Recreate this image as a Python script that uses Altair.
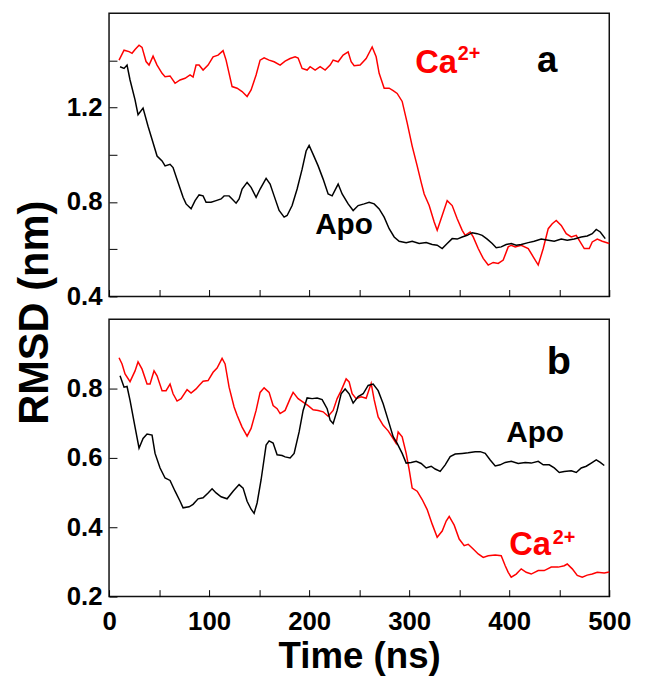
import altair as alt
import pandas as pd

# ---------------- data ----------------
# Panel a, Ca2+ (red)
a_ca_t = [10, 15, 20, 23, 26, 30, 33, 37, 40, 44, 48, 53, 56, 61, 66, 71, 76, 81, 84, 87,
          90, 94, 99, 104, 109, 114, 117, 120, 123, 128, 133, 138, 142, 147, 151, 155, 160,
          165, 171, 176, 181, 186, 189, 193, 198, 201, 206, 211, 216, 221, 224, 229, 234,
          239, 242, 245, 251, 257, 263, 267, 270, 275, 280, 284, 288, 293, 298, 303, 308,
          312, 315, 320, 325, 328, 333, 338, 343, 348, 353, 356, 361, 364, 369, 374, 379,
          384, 389, 394, 399, 402, 406, 412, 419, 424, 429, 434, 439, 443, 447, 452, 457,
          462, 467, 470, 475, 480, 483, 488, 493, 500]
a_ca_v = [1.401, 1.443, 1.437, 1.430, 1.446, 1.464, 1.455, 1.395, 1.380, 1.418, 1.380, 1.345,
          1.331, 1.334, 1.303, 1.317, 1.324, 1.338, 1.329, 1.380, 1.380, 1.359, 1.380, 1.415,
          1.422, 1.441, 1.401, 1.345, 1.289, 1.282, 1.268, 1.247, 1.275, 1.338, 1.401, 1.411,
          1.401, 1.394, 1.380, 1.397, 1.408, 1.415, 1.410, 1.366, 1.359, 1.373, 1.359, 1.373,
          1.359, 1.380, 1.401, 1.394, 1.422, 1.436, 1.394, 1.377, 1.380, 1.408, 1.457, 1.415,
          1.345, 1.282, 1.282, 1.272, 1.260, 1.226, 1.135, 1.037, 0.953, 0.883, 0.834, 0.785,
          0.715, 0.680, 0.743, 0.806, 0.785, 0.729, 0.680, 0.659, 0.673, 0.652, 0.603, 0.561,
          0.533, 0.544, 0.540, 0.554, 0.610, 0.617, 0.610, 0.617, 0.603, 0.568, 0.533, 0.603,
          0.687, 0.708, 0.722, 0.701, 0.666, 0.652, 0.659, 0.638, 0.603, 0.603, 0.631, 0.643,
          0.634, 0.624]

# Panel a, Apo (black)
a_apo_t = [11, 15, 18, 21, 26, 29, 34, 39, 44, 48, 53, 56, 61, 64, 69, 74, 77, 82, 86, 90,
           94, 97, 102, 107, 112, 115, 120, 123, 127, 130, 133, 138, 142, 147, 151, 157, 161,
           165, 170, 175, 178, 183, 188, 193, 197, 200, 204, 209, 214, 219, 223, 229, 233,
           239, 244, 249, 255, 260, 265, 270, 275, 280, 285, 290, 297, 303, 310, 317, 323,
           328, 333, 338, 343, 348, 353, 358, 363, 368, 373, 378, 383, 387, 392, 397, 402,
           407, 412, 419, 425, 432, 439, 445, 452, 458, 465, 472, 478, 483, 487, 491, 496]
a_apo_v = [1.373, 1.366, 1.380, 1.317, 1.233, 1.170, 1.198, 1.121, 1.051, 0.995, 0.974, 0.953,
           0.960, 0.946, 0.883, 0.820, 0.792, 0.771, 0.806, 0.830, 0.826, 0.799, 0.799, 0.806,
           0.813, 0.826, 0.826, 0.813, 0.795, 0.813, 0.855, 0.883, 0.862, 0.820, 0.855, 0.900,
           0.876, 0.826, 0.764, 0.736, 0.743, 0.785, 0.855, 0.939, 1.016, 1.040, 1.002, 0.953,
           0.897, 0.834, 0.826, 0.876, 0.834, 0.792, 0.764, 0.785, 0.792, 0.799, 0.792, 0.771,
           0.736, 0.687, 0.652, 0.634, 0.628, 0.634, 0.624, 0.628, 0.620, 0.617, 0.603, 0.624,
           0.645, 0.643, 0.652, 0.659, 0.670, 0.666, 0.659, 0.643, 0.624, 0.606, 0.610, 0.620,
           0.624, 0.617, 0.620, 0.628, 0.634, 0.643, 0.638, 0.634, 0.643, 0.638, 0.643, 0.652,
           0.656, 0.666, 0.684, 0.673, 0.645]

# Panel b, Ca2+ (red)
b_ca_t = [10, 13, 16, 21, 26, 29, 33, 38, 41, 45, 48, 53, 57, 61, 64, 68, 72, 78, 82, 87,
          90, 94, 99, 104, 108, 113, 116, 120, 125, 128, 133, 138, 142, 147, 151, 155, 160,
          164, 168, 171, 176, 181, 184, 189, 194, 199, 204, 209, 214, 219, 224, 228, 232,
          237, 240, 243, 247, 252, 257, 262, 265, 269, 274, 279, 284, 287, 289, 293, 297,
          300, 303, 308, 313, 318, 323, 328, 333, 337, 340, 345, 350, 355, 359, 364, 369,
          374, 379, 386, 392, 396, 399, 402, 407, 412, 417, 422, 429, 435, 442, 449, 455,
          458, 463, 468, 473, 478, 483, 488, 495, 500]
b_ca_v = [0.889, 0.871, 0.842, 0.820, 0.851, 0.877, 0.856, 0.813, 0.813, 0.851, 0.837, 0.794,
          0.794, 0.813, 0.785, 0.764, 0.771, 0.797, 0.787, 0.799, 0.809, 0.821, 0.823, 0.847,
          0.859, 0.887, 0.871, 0.804, 0.747, 0.723, 0.689, 0.663, 0.685, 0.737, 0.789, 0.802,
          0.789, 0.751, 0.742, 0.728, 0.737, 0.771, 0.789, 0.771, 0.761, 0.751, 0.739, 0.737,
          0.733, 0.720, 0.737, 0.771, 0.794, 0.828, 0.819, 0.785, 0.771, 0.776, 0.772, 0.815,
          0.768, 0.718, 0.694, 0.678, 0.656, 0.642, 0.675, 0.661, 0.613, 0.566, 0.513, 0.504,
          0.480, 0.451, 0.409, 0.371, 0.389, 0.418, 0.431, 0.406, 0.366, 0.347, 0.351, 0.337,
          0.323, 0.313, 0.318, 0.320, 0.318, 0.289, 0.270, 0.256, 0.265, 0.280, 0.270, 0.265,
          0.275, 0.275, 0.285, 0.285, 0.289, 0.294, 0.280, 0.261, 0.256, 0.262, 0.265, 0.270,
          0.268, 0.271]

# Panel b, Apo (black)
b_apo_t = [11, 15, 18, 21, 26, 30, 34, 38, 43, 46, 51, 56, 61, 66, 71, 74, 80, 84, 89, 94,
           99, 103, 107, 112, 118, 124, 130, 134, 138, 142, 145, 148, 152, 157, 160, 164, 168,
           173, 176, 181, 185, 190, 194, 198, 203, 208, 213, 218, 221, 224, 228, 232, 236,
           240, 244, 249, 254, 259, 264, 269, 274, 279, 284, 288, 293, 297, 302, 307, 312,
           317, 322, 326, 331, 336, 341, 346, 353, 359, 366, 371, 376, 381, 386, 391, 396,
           402, 409, 416, 422, 429, 434, 440, 445, 450, 455, 462, 467, 472, 477, 482, 487,
           491, 495]
b_apo_v = [0.837, 0.804, 0.806, 0.766, 0.689, 0.628, 0.656, 0.669, 0.666, 0.613, 0.571, 0.542,
           0.535, 0.504, 0.475, 0.456, 0.459, 0.466, 0.482, 0.485, 0.499, 0.511, 0.499, 0.488,
           0.482, 0.504, 0.523, 0.513, 0.475, 0.452, 0.440, 0.470, 0.537, 0.637, 0.649, 0.643,
           0.609, 0.607, 0.603, 0.600, 0.613, 0.675, 0.737, 0.773, 0.771, 0.773, 0.768, 0.742,
           0.709, 0.699, 0.737, 0.785, 0.799, 0.785, 0.758, 0.777, 0.785, 0.809, 0.813, 0.794,
           0.756, 0.709, 0.661, 0.642, 0.613, 0.585, 0.587, 0.590, 0.584, 0.571, 0.576, 0.568,
           0.561, 0.580, 0.604, 0.611, 0.613, 0.615, 0.618, 0.618, 0.613, 0.594, 0.577, 0.580,
           0.587, 0.590, 0.584, 0.587, 0.585, 0.590, 0.580, 0.580, 0.571, 0.558, 0.561, 0.563,
           0.558, 0.571, 0.576, 0.585, 0.594, 0.587, 0.578]

x_ticks = [0, 50, 100, 150, 200, 250, 300, 350, 400, 450, 500]
a_y_ticks = [0.4, 0.5, 0.6, 0.7, 0.8, 0.9, 1.0, 1.1, 1.2, 1.3, 1.4, 1.5]
b_y_ticks = [0.2, 0.3, 0.4, 0.5, 0.6, 0.7, 0.8, 0.9]

FONT = "Liberation Sans"
RED = "#ff0000"
BLACK = "#000000"


def series(t, v):
    return pd.DataFrame({"t": t, "v": v})


def lines(ca_t, ca_v, apo_t, apo_v, x, y):
    red = alt.Chart(series(ca_t, ca_v)).mark_line(color=RED, strokeWidth=1.5).encode(x=x, y=y)
    blk = alt.Chart(series(apo_t, apo_v)).mark_line(color=BLACK, strokeWidth=1.5).encode(x=x, y=y)
    return red, blk


def label(text, t, v, size, color):
    return alt.Chart().mark_text(
        text=text, align="left", baseline="alphabetic", font=FONT,
        fontWeight="bold", fontSize=size, color=color
    ).encode(x=alt.datum(t), y=alt.datum(v))


xscale = alt.Scale(domain=[0, 500], nice=False, zero=False)

# ---------- panel a ----------
xa = alt.X("t:Q", scale=xscale, title=None,
           axis=alt.Axis(values=x_ticks, labels=False, domain=False, grid=False,
                         tickSize=alt.ExprRef(expr="-7"), tickColor=BLACK))
ya = alt.Y("v:Q", scale=alt.Scale(domain=[0.4, 1.6], nice=False, zero=False),
           axis=alt.Axis(values=a_y_ticks, domain=False, grid=False,
                         labelExpr="round(datum.value*10) % 4 == 0 ? format(datum.value, '.1f') : ''",
                         tickSize=alt.ExprRef(expr="-8"), tickColor=BLACK, labelPadding=15,
                         labelFont=FONT, labelFontWeight="bold", labelFontSize=26,
                         labelColor=BLACK, labelFlush=False, labelOverlap=False,
                         title="RMSD (nm)", titleFont=FONT, titleFontWeight="bold",
                         titleFontSize=42, titleColor=BLACK, titleAngle=270,
                         titleBaseline="alphabetic", titleAlign="center",
                         titleX=-62, titleY=302))
ra, ba = lines(a_ca_t, a_ca_v, a_apo_t, a_apo_v, xa, ya)
top = alt.layer(
    ra, ba,
    label("Ca", 306, 1.345, 33, RED),
    label("2+", 348.5, 1.40, 20, RED),
    label("a", 427.7, 1.35, 37, BLACK),
    label("Apo", 206, 0.665, 30, BLACK),
).properties(width=505, height=286)

# ---------- panel b ----------
xb = alt.X("t:Q", scale=xscale,
           axis=alt.Axis(values=x_ticks, domain=False, grid=False,
                         tickSize=alt.ExprRef(expr="-7"), tickColor=BLACK,
                         labelExpr="round(datum.value) % 100 == 0 ? datum.value : ''",
                         labelPadding=19, labelFont=FONT, labelFontWeight="bold",
                         labelFontSize=26, labelColor=BLACK, labelFlush=False,
                         labelOverlap=False,
                         title="Time (ns)", titleFont=FONT, titleFontWeight="bold",
                         titleFontSize=37, titleColor=BLACK, titleBaseline="alphabetic",
                         titleY=72))
yb = alt.Y("v:Q", scale=alt.Scale(domain=[0.2, 1.0], nice=False, zero=False), title=None,
           axis=alt.Axis(values=b_y_ticks, domain=False, grid=False,
                         labelExpr="round(datum.value*10) % 2 == 0 ? format(datum.value, '.1f') : ''",
                         tickSize=alt.ExprRef(expr="-8"), tickColor=BLACK, labelPadding=15,
                         labelFont=FONT, labelFontWeight="bold", labelFontSize=26,
                         labelColor=BLACK, labelFlush=False, labelOverlap=False))
rb, bb = lines(b_ca_t, b_ca_v, b_apo_t, b_apo_v, xb, yb)
bottom = alt.layer(
    rb, bb,
    label("b", 437.6, 0.843, 40, BLACK),
    label("Apo", 397, 0.646, 30, BLACK),
    label("Ca", 400, 0.32, 33, RED),
    label("2+", 443.6, 0.351, 20, RED),
).properties(width=505, height=280)

chart = alt.vconcat(top, bottom, spacing=23, bounds="flush").properties(
    padding={"top": 1, "left": 5, "right": 5, "bottom": 0}
).configure_view(stroke="#111111", strokeWidth=1.5).configure_axis(tickWidth=1)

chart.save("out.html", embed_options={"renderer": "svg", "actions": False})
